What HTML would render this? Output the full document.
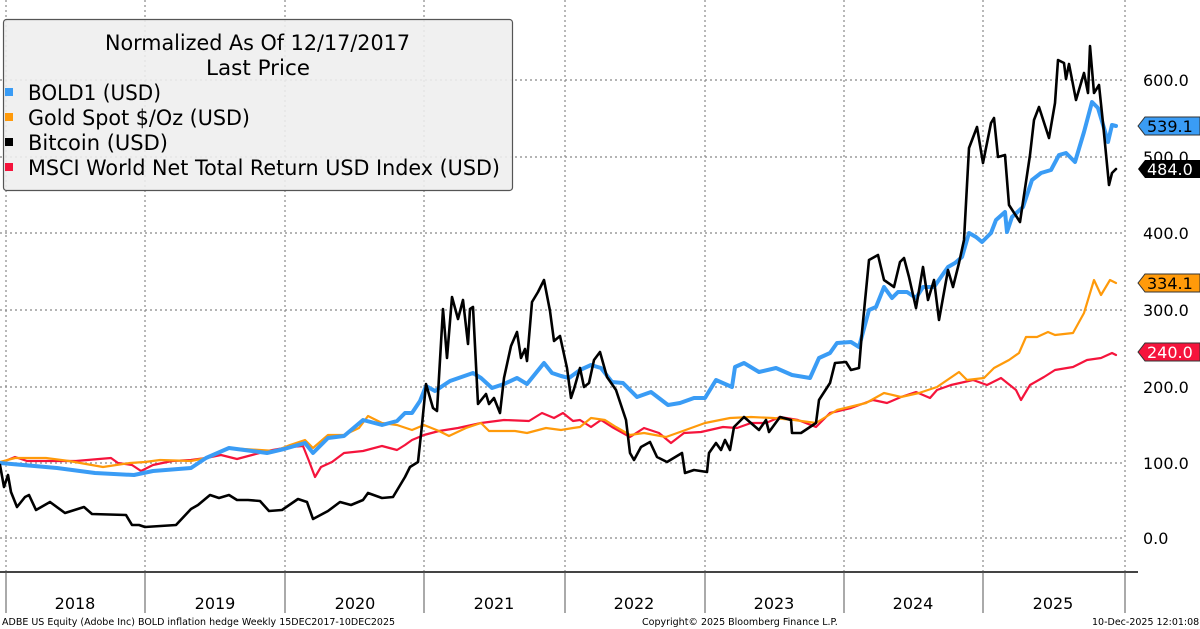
<!DOCTYPE html>
<html><head><meta charset="utf-8"><style>
html,body{margin:0;padding:0;background:#fff;}
svg{display:block;font-family:"DejaVu Sans","Liberation Sans",sans-serif;}
</style></head><body>
<svg width="1200" height="629" viewBox="0 0 1200 629" xmlns="http://www.w3.org/2000/svg">
<rect width="1200" height="629" fill="#fff"/>
<g stroke="#888" stroke-width="1.2" stroke-dasharray="2,3">
<line x1="0" y1="80" x2="1125" y2="80"/><line x1="0" y1="157" x2="1125" y2="157"/><line x1="0" y1="233" x2="1125" y2="233"/><line x1="0" y1="310" x2="1125" y2="310"/><line x1="0" y1="387" x2="1125" y2="387"/><line x1="0" y1="463" x2="1125" y2="463"/><line x1="0" y1="538" x2="1125" y2="538"/>
<line x1="6" y1="0" x2="6" y2="572"/><line x1="145" y1="0" x2="145" y2="572"/><line x1="285" y1="0" x2="285" y2="572"/><line x1="424" y1="0" x2="424" y2="572"/><line x1="565" y1="0" x2="565" y2="572"/><line x1="705" y1="0" x2="705" y2="572"/><line x1="844" y1="0" x2="844" y2="572"/><line x1="983" y1="0" x2="983" y2="572"/><line x1="1125" y1="0" x2="1125" y2="572"/>
</g>
<line x1="0" y1="572" x2="1138" y2="572" stroke="#444" stroke-width="2"/>
<g stroke="#555" stroke-width="1">
<line x1="6" y1="572" x2="6" y2="613"/><line x1="145" y1="572" x2="145" y2="613"/><line x1="285" y1="572" x2="285" y2="613"/><line x1="424" y1="572" x2="424" y2="613"/><line x1="565" y1="572" x2="565" y2="613"/><line x1="705" y1="572" x2="705" y2="613"/><line x1="844" y1="572" x2="844" y2="613"/><line x1="983" y1="572" x2="983" y2="613"/><line x1="1125" y1="572" x2="1125" y2="613"/>
</g>
<g font-size="16" fill="#000" text-anchor="middle">
<text x="75" y="609">2018</text><text x="215" y="609">2019</text><text x="355" y="609">2020</text><text x="494" y="609">2021</text><text x="634" y="609">2022</text><text x="774" y="609">2023</text><text x="913" y="609">2024</text><text x="1053" y="609">2025</text>
</g>
<g font-size="16" fill="#000">
<text x="1143" y="86">600.0</text><text x="1143" y="163">500.0</text><text x="1143" y="239">400.0</text><text x="1143" y="316">300.0</text><text x="1143" y="393">200.0</text><text x="1143" y="469">100.0</text><text x="1143" y="544">0.0</text>
</g>
<g font-size="9.5" fill="#000">
<text x="2" y="625">ADBE US Equity (Adobe Inc) BOLD inflation hedge Weekly 15DEC2017-10DEC2025</text>
<text x="642" y="625">Copyright© 2025 Bloomberg Finance L.P.</text>
<text x="1092" y="625">10-Dec-2025 12:01:08</text>
</g>
<g fill="none" stroke-linejoin="round" stroke-linecap="round">
<polyline stroke="#f5143c" stroke-width="2.2" points="0,463 15,457 27,461 57,461 76,461 99,459 111,458 118,463 132,465 141,471 153,465 172,461 191,460 206,458 221,455 237,459 252,455 267,451 290,447 303,446 309,461 315,477 321,467 332,462 344,453 363,451 382,446 397,450 405,445 412,440 424,435 439,431 458,428 481,423 504,420 529,421 542,413 554,418 563,413 573,421 580,420 591,427 601,420 612,427 630,437 644,428 659,433 671,443 684,433 701,432 723,427 737,428 751,423 766,423 780,417 798,420 816,427 830,413 851,408 873,400 887,403 901,397 916,392 930,398 937,390 951,385 973,380 987,385 1001,378 1016,390 1021,400 1030,385 1044,377 1055,370 1073,367 1087,360 1101,358 1112,353 1116,355"/>
<polyline stroke="#ff9a0a" stroke-width="2.2" points="0,462 15,458 46,458 69,461 103,467 130,463 145,462 160,460 191,461 206,458 229,448 260,450 275,451 290,445 305,440 313,448 328,435 344,435 359,428 368,416 382,423 397,425 412,430 424,425 439,431 449,436 466,428 481,423 489,431 515,431 527,433 546,428 561,430 573,428 580,427 591,418 605,420 616,427 630,435 644,433 666,437 680,432 705,423 730,418 751,417 773,418 794,420 816,423 837,410 866,403 884,393 901,397 919,393 937,387 959,372 967,380 984,378 994,368 1009,360 1019,353 1026,337 1037,337 1048,332 1055,335 1073,333 1084,313 1094,280 1101,295 1110,280 1116,283"/>
<polyline stroke="#3a9cf5" stroke-width="4" points="0,463 23,465 57,468 95,473 134,475 153,471 191,468 206,458 229,448 252,451 267,453 284,449 305,443 313,453 328,438 344,436 363,420 382,425 397,421 405,413 412,413 420,401 426,386 435,391 450,381 473,373 481,378 492,388 504,384 517,378 527,384 544,363 552,373 561,376 569,378 580,370 591,365 601,368 612,382 623,383 637,397 651,392 668,405 680,403 694,398 705,398 716,380 732,387 735,367 744,363 759,372 776,368 792,375 810,378 819,358 830,353 837,343 851,342 859,347 869,310 876,307 884,287 892,298 898,292 907,292 916,298 923,287 934,287 948,267 955,263 962,257 969,233 976,237 982,242 991,233 996,220 1005,212 1007,232 1012,217 1023,207 1032,180 1041,173 1051,170 1059,155 1066,153 1075,162 1084,132 1092,102 1098,108 1104,128 1108,142 1112,125 1116,126"/>
<polyline stroke="#000" stroke-width="2.6" points="0,465 4,487 8,475 11,492 17,507 25,497 29,495 36,510 50,502 65,513 84,507 92,514 126,515 132,525 139,525 145,527 176,525 191,509 198,505 210,495 219,498 229,495 237,500 248,500 260,501 269,511 282,510 298,499 307,502 313,519 328,511 340,502 351,505 363,500 368,493 382,498 393,497 405,477 410,467 418,462 422,425 426,384 433,408 437,411 443,309 447,358 452,297 458,319 463,300 468,344 470,309 473,307 478,404 486,394 489,404 494,398 500,413 504,378 511,346 517,332 521,358 525,349 527,361 532,302 538,292 544,280 550,311 554,341 560,336 567,368 571,398 574,389 580,368 584,387 589,383 594,360 600,352 607,377 616,390 626,420 630,453 634,460 641,447 650,442 657,457 667,462 682,453 685,473 694,470 707,472 709,453 716,443 721,450 725,440 730,450 734,427 744,417 759,430 766,420 769,432 780,417 791,420 792,433 801,433 816,423 819,400 830,383 835,363 846,362 851,370 859,368 862,332 869,260 878,255 884,280 894,287 900,262 904,258 909,277 916,308 923,267 928,300 934,280 939,320 948,270 953,287 959,263 964,240 969,148 977,127 983,163 991,123 994,118 998,157 1005,155 1009,205 1020,222 1030,155 1034,120 1039,107 1049,138 1055,103 1058,60 1064,63 1066,79 1069,64 1076,100 1084,73 1088,93 1090,46 1094,93 1099,85 1103,123 1109,185 1112,173 1116,169"/>
</g>
<g font-size="16">
<path d="M1138,126 L1145,117 L1200,117 L1200,135 L1145,135 Z" fill="#3a9cf5" stroke="#333" stroke-width="1"/><text x="1147" y="132" fill="#000">539.1</text>
<path d="M1138,169 L1145,160 L1200,160 L1200,178 L1145,178 Z" fill="#000"/><text x="1147" y="175" fill="#fff">484.0</text>
<path d="M1138,283 L1145,274 L1200,274 L1200,292 L1145,292 Z" fill="#ff9a0a" stroke="#333" stroke-width="1"/><text x="1147" y="289" fill="#000">334.1</text>
<path d="M1138,352 L1145,343 L1200,343 L1200,361 L1145,361 Z" fill="#f5143c" stroke="#333" stroke-width="1"/><text x="1147" y="358" fill="#fff">240.0</text>
</g>
<rect x="3.5" y="19.5" width="509" height="171" rx="3" fill="#eeeeee" fill-opacity="0.88" stroke="#555" stroke-width="1.2"/>
<g font-size="21" fill="#000">
<text x="105" y="50" textLength="305" lengthAdjust="spacingAndGlyphs">Normalized As Of 12/17/2017</text>
<text x="206" y="75" textLength="104" lengthAdjust="spacingAndGlyphs">Last Price</text>
<rect x="5" y="88" width="8" height="8" fill="#3a9cf5"/><text x="28" y="100" textLength="133" lengthAdjust="spacingAndGlyphs">BOLD1 (USD)</text>
<rect x="5" y="113" width="8" height="8" fill="#ff9a0a"/><text x="28" y="125" textLength="222" lengthAdjust="spacingAndGlyphs">Gold Spot $/Oz (USD)</text>
<rect x="5" y="138" width="8" height="8" fill="#000"/><text x="28" y="150" textLength="140" lengthAdjust="spacingAndGlyphs">Bitcoin (USD)</text>
<rect x="5" y="163" width="8" height="8" fill="#f5143c"/><text x="28" y="175" textLength="472" lengthAdjust="spacingAndGlyphs">MSCI World Net Total Return USD Index (USD)</text>
</g>
</svg>
</body></html>
